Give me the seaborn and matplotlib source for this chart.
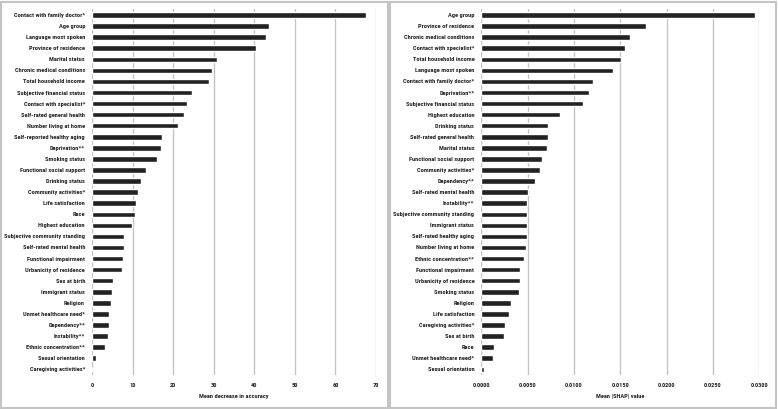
import matplotlib
matplotlib.use("Agg")
import matplotlib.pyplot as plt
import seaborn as sns
import pandas as pd
from matplotlib.patches import Rectangle
from matplotlib import font_manager
from matplotlib.textpath import TextPath
from matplotlib.font_manager import FontProperties

# Left panel: mean decrease in accuracy
left_labels = [
    "Contact with family doctor*", "Age group", "Language most spoken", "Province of residence",
    "Marital status", "Chronic medical conditions", "Total household income",
    "Subjective financial status", "Contact with specialist*", "Self-rated general health",
    "Number living at home", "Self-reported healthy aging", "Deprivation**", "Smoking status",
    "Functional social support", "Drinking status", "Community activities*", "Life satisfaction",
    "Race", "Highest education", "Subjective community standing", "Self-rated mental health",
    "Functional impairment", "Urbanicity of residence", "Sex at birth", "Immigrant status",
    "Religion", "Unmet healthcare need*", "Dependency**", "Instability**",
    "Ethnic concentration**", "Sexual orientation", "Caregiving activities*",
]
left_values = [
    67.5, 43.7, 43.0, 40.3, 30.8, 29.7, 28.8, 24.6, 23.3, 22.6, 21.2, 17.3, 16.9, 15.9,
    13.3, 12.1, 11.4, 10.8, 10.7, 9.9, 8.0, 8.0, 7.6, 7.5, 5.1, 5.0, 4.7, 4.3, 4.3, 3.9,
    3.1, 0.9, 0.05,
]
left_ticks = [0, 10, 20, 30, 40, 50, 60, 70]

# Right panel: mean |SHAP| value
right_labels = [
    "Age group", "Province of residence", "Chronic medical conditions", "Contact with specialist*",
    "Total household income", "Language most spoken", "Contact with family doctor*",
    "Deprivation**", "Subjective financial status", "Highest education", "Drinking status",
    "Self-rated general health", "Marital status", "Functional social support",
    "Community activities*", "Dependency**", "Self-rated mental health", "Instability**",
    "Subjective community standing", "Immigrant status", "Self-rated healthy aging",
    "Number living at home", "Ethnic concentration**", "Functional impairment",
    "Urbanicity of residence", "Smoking status", "Religion", "Life satisfaction",
    "Caregiving activities*", "Sex at birth", "Race", "Unmet healthcare need*",
    "Sexual orientation",
]
right_values = [
    0.0295, 0.0178, 0.0161, 0.0155, 0.0151, 0.0142, 0.0120, 0.0116, 0.0110, 0.0085,
    0.0072, 0.0072, 0.0071, 0.0066, 0.0063, 0.0058, 0.0050, 0.0049, 0.0049, 0.0049,
    0.0049, 0.0048, 0.0046, 0.0042, 0.0042, 0.0041, 0.0032, 0.0030, 0.0026, 0.0025,
    0.0014, 0.0013, 0.0003,
]
right_ticks = [0.0, 0.005, 0.010, 0.015, 0.020, 0.025, 0.030]

sns.set_theme(style="white")
available = {f.name for f in font_manager.fontManager.ttflist}
main_font = "Roboto"
for cand in ["Liberation Sans Narrow", "Roboto Condensed", "Open Sans Condensed", "Roboto"]:
    if cand in available:
        main_font = cand
        break
FONT = [main_font, "DejaVu Sans"]
plt.rcParams["font.family"] = FONT

# font size chosen so that "Contact with family doctor*" is ~70 px wide (as in the reference)
fp = FontProperties(family=main_font, weight="bold", size=10)
w10 = TextPath((0, 0), "Contact with family doctor*", prop=fp).get_extents().width
FS = min(6.0, 10 * (70 * 0.72) / w10)

fig = plt.figure(figsize=(7.78, 4.09), dpi=100)
fig.patch.set_facecolor("white")

bottom = 0.0836
height = 0.9768 - bottom
axL = fig.add_axes([92 / 778, bottom, (376 - 92) / 778, height])
axR = fig.add_axes([481.3 / 778, bottom, (759.3 - 481.3) / 778, height])

bar_color = "#222222"
grid_color = "#c4c4c4"


def draw(ax, labels, values, ticks, fmt, xlabel):
    df = pd.DataFrame({"feature": labels, "value": values})
    sns.barplot(data=df, x="value", y="feature", orient="h", color=bar_color,
                width=0.5, ax=ax, saturation=1, zorder=3)
    ax.set_xlim(ticks[0], ticks[-1])
    ax.set_ylim(len(labels) - 0.5, -0.5)
    ax.set_xticks(ticks)
    ax.set_xticklabels([fmt(t) for t in ticks], fontsize=FS, fontweight="bold", family=FONT)
    ax.set_yticks(range(len(labels)))
    ax.set_yticklabels(labels, fontsize=FS, fontweight="bold", family=FONT)
    ax.tick_params(axis="y", length=0, pad=5)
    ax.tick_params(axis="x", length=0, pad=6)
    ax.set_ylabel("")
    ax.set_xlabel(xlabel, fontsize=FS, fontweight="bold", family=FONT, labelpad=4)
    ax.grid(axis="x", color=grid_color, linewidth=1.0, zorder=0)
    ax.grid(axis="y", visible=False)
    ax.set_axisbelow(True)
    for s in ax.spines.values():
        s.set_visible(False)
    ax.set_facecolor("none")


draw(axL, left_labels, left_values, left_ticks, lambda t: f"{t:d}", "Mean decrease in accuracy")
draw(axR, right_labels, right_values, right_ticks, lambda t: f"{t:.4f}", "Mean |SHAP| value")

# Panel borders
border = "#c4c4c4"
fig.patches.append(Rectangle((1 / 778, 1 / 409), 387 / 778, 406 / 409, transform=fig.transFigure,
                             fill=False, edgecolor=border, linewidth=1.5))
fig.patches.append(Rectangle((390 / 778, 1 / 409), 386 / 778, 406 / 409, transform=fig.transFigure,
                             fill=False, edgecolor=border, linewidth=1.5))

fig.savefig("out.png", dpi=100, facecolor="white")
